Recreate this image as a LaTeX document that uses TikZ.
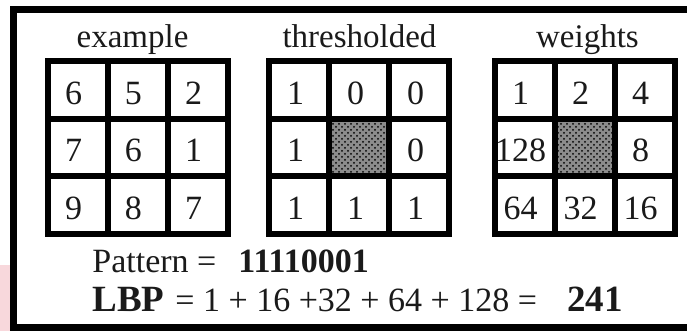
\documentclass[tikz,border=0pt]{standalone}
\usepackage{fontspec}
\setmainfont{Liberation Serif}
\usetikzlibrary{patterns}
\definecolor{ink}{HTML}{1A1A1A}
\definecolor{blush}{HTML}{F8D8DC}
\tikzset{
  every picture/.style={x=0.5pt, y=-0.5pt, line join=miter},
  frame/.style={line width=3.5pt},
  gridline/.style={line width=3pt},
  centrecell/.style={fill=black!45, postaction={pattern=crosshatch dots, pattern color=black}},
  cellnum/.style={inner sep=0pt, text=ink, font=\fontsize{17}{20}\selectfont},
  title/.style={anchor=base, inner sep=0pt, text=ink, font=\fontsize{16.5}{20}\selectfont},
  sumtext/.style={anchor=base west, inner sep=0pt, text=ink, font=\fontsize{17}{20}\selectfont},
}

\begin{document}
\begin{tikzpicture}
\useasboundingbox (0,0) rectangle (687,331);
\clip (0,0) rectangle (687,331);
\fill[blush] (0,265) rectangle (10,331);
\draw[frame] (700,9.5) -- (13.5,9.5) -- (13.5,328) -- (700,328);
% shaded centre cells
\path[centrecell] (328.5,119) rectangle (388.5,176.5);
\path[centrecell] (554.5,119) rectangle (614.5,176.5);
% the three 3x3 grids
\foreach \gx/\gn/\gt/\gs in {47.5/ex/example/-5, 268.5/th/thresholded/1, 494.5/wt/weights/3}{
  \draw[gridline] (\gx,61.5) rectangle (\gx+180,234);
  \foreach \i in {1,2}{
    \draw[gridline] (\gx+60*\i,61.5) -- (\gx+60*\i,234);
    \draw[gridline] (\gx,61.5+57.5*\i) -- (\gx+180,61.5+57.5*\i);
  }
  \node[title] (\gn-title) at (\gx+90+\gs,48) {\gt};
}
% cell values, position/value
\foreach \p/\v in {0/6,1/5,2/2,3/7,4/6,5/1,6/9,7/8,8/7}{
  \pgfmathtruncatemacro{\c}{mod(\p,3)}
  \pgfmathtruncatemacro{\r}{\p/3}
  \node[cellnum] (ex-\p) at (47.5+30+60*\c-4,90.25+57.5*\r+3) {\v};
}
\foreach \p/\v in {0/1,1/0,2/0,3/1,5/0,6/1,7/1,8/1}{
  \pgfmathtruncatemacro{\c}{mod(\p,3)}
  \pgfmathtruncatemacro{\r}{\p/3}
  \node[cellnum] (th-\p) at (268.5+30+60*\c-3,90.25+57.5*\r+3) {\v};
}
\foreach \p/\v in {0/1,1/2,2/4,3/128,5/8,6/64,7/32,8/16}{
  \pgfmathtruncatemacro{\c}{mod(\p,3)}
  \pgfmathtruncatemacro{\r}{\p/3}
  \node[cellnum] (wt-\p) at (494.5+30+60*\c-4,90.25+57.5*\r+3) {\v};
}
% pattern and code
\node[sumtext] (pat) at (92,273) {Pattern =};
\node[sumtext, font=\fontsize{17}{20}\selectfont\bfseries] (patbits) at (238,273) {11110001};
\node[sumtext, font=\fontsize{18.5}{20}\selectfont\bfseries] (lbp) at (92,312) {LBP};
\node[sumtext] (lbpsum) at (175,312) {= 1 + 16 +32 + 64 + 128 =};
\node[sumtext, font=\fontsize{18.5}{20}\selectfont\bfseries] (lbpval) at (567,312) {241};
\end{tikzpicture}
\end{document}
